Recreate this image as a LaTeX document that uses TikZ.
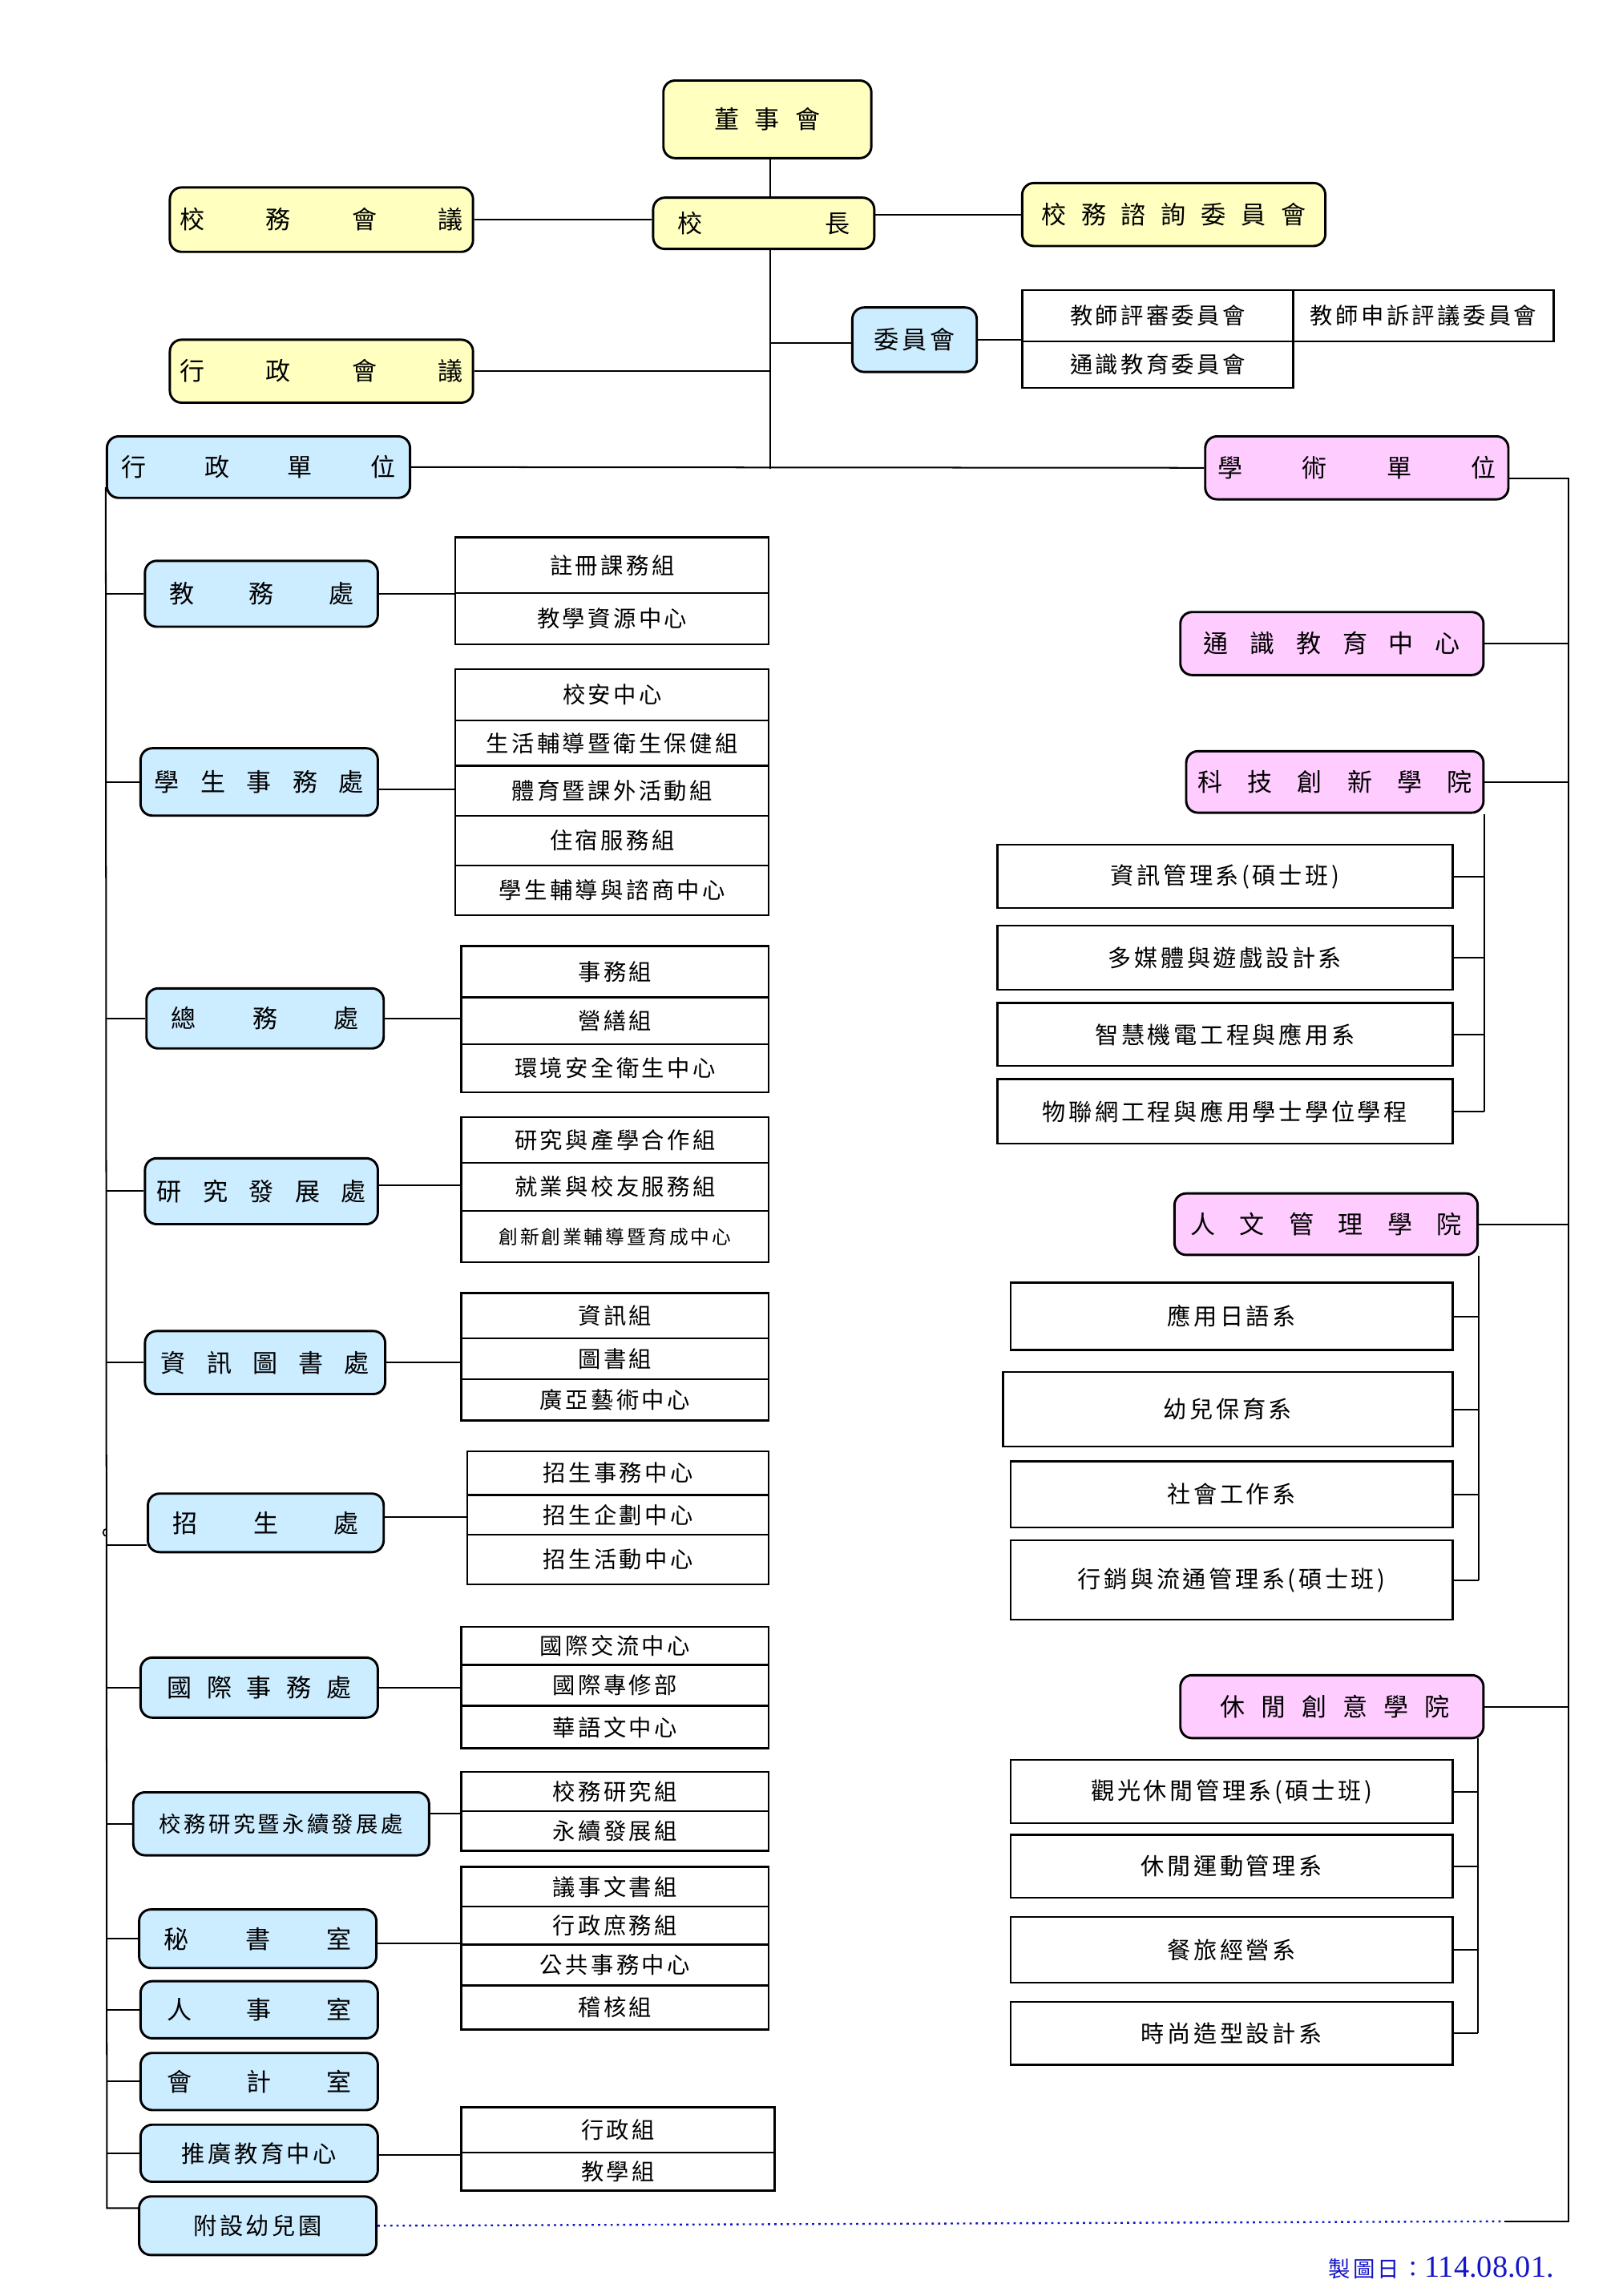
\documentclass[tikz,border=0pt]{standalone}
\usepackage{fontspec}
\setmainfont{Noto Sans CJK TC}
\newfontfamily\cjks[LetterSpace=12]{Noto Sans CJK TC}
\newfontfamily\lserif{Liberation Serif}
\usetikzlibrary{calc}
\definecolor{yel}{RGB}{255,255,192}
\definecolor{blu}{RGB}{204,236,255}
\definecolor{pnk}{RGB}{255,204,255}
\definecolor{dblue}{RGB}{20,20,200}
\newcommand\obox[7]{%
  \pgfmathsetmacro\cx{(#3+#5)/2}\pgfmathsetmacro\cy{-(#4+#6)/2}%
  \pgfmathsetmacro\ww{#5-#3}\pgfmathsetmacro\hh{#6-#4}%
  \node[#1, minimum width=\ww pt, minimum height=\hh pt] (#2) at (\cx pt,\cy pt) {#7};}
\newcommand\spr[2]{\makebox[#1pt][s]{#2}}
\tikzset{
  tbox/.style={draw, line width=1.6pt, rounded corners=8pt, inner sep=0pt, font=\fontsize{17}{20}\selectfont},
  ybox/.style={tbox, fill=yel},
  bbox/.style={tbox, fill=blu},
  pbox/.style={tbox, fill=pnk},
  wbox/.style={draw, line width=1.3pt, fill=white, inner sep=0pt, font=\cjks\fontsize{15.5}{18}\selectfont},
  dbox/.style={wbox, font=\cjks\fontsize{16}{19}\selectfont},
  conn/.style={line width=1.1pt},
}
\begin{document}
\begin{tikzpicture}[x=1pt,y=1pt]
\useasboundingbox[fill=white] (0,0) rectangle (1108,-1568);

% ---------- top ----------
\obox{ybox}{boss}{453}{55}{595}{108}{\spr{72}{董\hfill 事\hfill 會}}
\obox{ybox}{pres}{446}{135}{597}{170}{\spr{118}{校\hfill 長}}
\obox{ybox}{xwhy}{116}{128}{323}{172}{\spr{193}{校\hfill 務\hfill 會\hfill 議}}
\obox{ybox}{zx}{698}{125}{905}{168}{\spr{181}{校\hfill 務\hfill 諮\hfill 詢\hfill 委\hfill 員\hfill 會}}
\obox{bbox}{cm}{582}{210}{667}{254}{\cjks 委員會}
\obox{wbox}{t1}{698}{198}{883}{233}{教師評審委員會}
\obox{wbox}{t2}{698}{233}{883}{265}{通識教育委員會}
\obox{wbox}{t3}{883}{198}{1061}{233}{教師申訴評議委員會}
\obox{ybox}{xz}{116}{232}{323}{275}{\spr{193}{行\hfill 政\hfill 會\hfill 議}}
\obox{bbox}{admin}{73}{298}{280}{340}{\spr{187}{行\hfill 政\hfill 單\hfill 位}}
\obox{pbox}{acad}{823}{298}{1030}{341}{\spr{190}{學\hfill 術\hfill 單\hfill 位}}

% ---------- administrative units ----------
\obox{bbox}{u1}{99}{383}{258}{428}{\spr{126}{教\hfill 務\hfill 處}}
\obox{bbox}{u2}{96}{511}{258}{557}{\spr{143}{學\hfill 生\hfill 事\hfill 務\hfill 處}}
\obox{bbox}{u3}{100}{675}{262}{716}{\spr{128}{總\hfill 務\hfill 處}}
\obox{bbox}{u4}{99}{791}{258}{836}{\spr{143}{研\hfill 究\hfill 發\hfill 展\hfill 處}}
\obox{bbox}{u5}{99}{909}{263}{952}{\spr{142}{資\hfill 訊\hfill 圖\hfill 書\hfill 處}}
\obox{bbox}{u6}{101}{1020}{262}{1060}{\spr{127}{招\hfill 生\hfill 處}}
\obox{bbox}{u7}{96}{1132}{258}{1173}{\spr{126}{國\hfill 際\hfill 事\hfill 務\hfill 處}}
\obox{bbox,font=\cjks\fontsize{15}{18}\selectfont}{u8}{91}{1224}{293}{1267}{校務研究暨永續發展處}
\obox{bbox}{u9}{95}{1304}{257}{1344}{\spr{128}{秘\hfill 書\hfill 室}}
\obox{bbox}{u10}{96}{1353}{258}{1392}{\spr{126}{人\hfill 事\hfill 室}}
\obox{bbox}{u11}{96}{1402}{258}{1441}{\spr{126}{會\hfill 計\hfill 室}}
\obox{bbox,font=\cjks\fontsize{16}{19}\selectfont}{u12}{96}{1451}{258}{1490}{推廣教育中心}
\obox{bbox,font=\cjks\fontsize{16}{19}\selectfont}{u13}{95}{1500}{257}{1540}{附設幼兒園}

% ---------- groups ----------
\obox{wbox}{g11}{311}{367}{525}{405}{註冊課務組}
\obox{wbox}{g12}{311}{405}{525}{440}{教學資源中心}

\obox{wbox}{g21}{311}{457}{525}{492}{校安中心}
\obox{wbox}{g22}{311}{492}{525}{523}{生活輔導暨衛生保健組}
\obox{wbox}{g23}{311}{523}{525}{557}{體育暨課外活動組}
\obox{wbox}{g24}{311}{557}{525}{591}{住宿服務組}
\obox{wbox}{g25}{311}{591}{525}{625}{學生輔導與諮商中心}

\obox{wbox}{g31}{315}{646}{525}{681}{事務組}
\obox{wbox}{g32}{315}{681}{525}{713}{營繕組}
\obox{wbox}{g33}{315}{713}{525}{746}{環境安全衛生中心}

\obox{wbox}{g41}{315}{763}{525}{794}{研究與產學合作組}
\obox{wbox}{g42}{315}{794}{525}{827}{就業與校友服務組}
\obox{wbox,font=\cjks\fontsize{13}{16}\selectfont}{g43}{315}{827}{525}{862}{創新創業輔導暨育成中心}

\obox{wbox}{g51}{315}{883}{525}{914}{資訊組}
\obox{wbox}{g52}{315}{914}{525}{942}{圖書組}
\obox{wbox}{g53}{315}{942}{525}{970}{廣亞藝術中心}

\obox{wbox}{g61}{319}{991}{525}{1021}{招生事務中心}
\obox{wbox}{g62}{319}{1021}{525}{1048}{招生企劃中心}
\obox{wbox}{g63}{319}{1048}{525}{1082}{招生活動中心}

\obox{wbox}{g71}{315}{1111}{525}{1137}{國際交流中心}
\obox{wbox}{g72}{315}{1137}{525}{1165}{國際專修部}
\obox{wbox}{g73}{315}{1165}{525}{1194}{華語文中心}

\obox{wbox}{g81}{315}{1210}{525}{1237}{校務研究組}
\obox{wbox}{g82}{315}{1237}{525}{1264}{永續發展組}

\obox{wbox}{g91}{315}{1275}{525}{1302}{議事文書組}
\obox{wbox}{g92}{315}{1302}{525}{1328}{行政庶務組}
\obox{wbox}{g93}{315}{1328}{525}{1356}{公共事務中心}
\obox{wbox}{g94}{315}{1356}{525}{1386}{稽核組}

\obox{wbox}{g121}{315}{1439}{529}{1470}{行政組}
\obox{wbox}{g122}{315}{1470}{529}{1496}{教學組}

% ---------- academic units ----------
\obox{pbox}{c0}{806}{418}{1013}{461}{\spr{175}{通\hfill 識\hfill 教\hfill 育\hfill 中\hfill 心}}
\obox{pbox}{c1}{810}{513}{1013}{555}{\spr{187}{科\hfill 技\hfill 創\hfill 新\hfill 學\hfill 院}}
\obox{dbox}{d11}{681}{577}{992}{620}{資訊管理系(碩士班)}
\obox{dbox}{d12}{681}{632}{992}{676}{多媒體與遊戲設計系}
\obox{dbox}{d13}{681}{685}{992}{728}{智慧機電工程與應用系}
\obox{dbox}{d14}{681}{737}{992}{781}{物聯網工程與應用學士學位學程}

\obox{pbox}{c2}{802}{815}{1009}{857}{\spr{185}{人\hfill 文\hfill 管\hfill 理\hfill 學\hfill 院}}
\obox{dbox}{d21}{690}{876}{992}{922}{應用日語系}
\obox{dbox}{d22}{685}{937}{992}{988}{幼兒保育系}
\obox{dbox}{d23}{690}{998}{992}{1043}{社會工作系}
\obox{dbox}{d24}{690}{1052}{992}{1106}{行銷與流通管理系(碩士班)}

\obox{pbox}{c3}{806}{1144}{1013}{1187}{\hspace{4pt}\spr{157}{休\hfill 閒\hfill 創\hfill 意\hfill 學\hfill 院}}
\obox{dbox}{d31}{690}{1202}{992}{1245}{觀光休閒管理系(碩士班)}
\obox{dbox}{d32}{690}{1253}{992}{1296}{休閒運動管理系}
\obox{dbox}{d33}{690}{1309}{992}{1354}{餐旅經營系}
\obox{dbox}{d34}{690}{1367}{992}{1410}{時尚造型設計系}

% ---------- coordinates ----------
\coordinate (sp) at (526,-320);
\coordinate (lr) at (73,-1508);
\coordinate (rr) at (1071,-1517);
\coordinate (dotend) at (1027,-1517);
\coordinate (v3) at (1009,-1187);

% ---------- connectors: top ----------
\draw[conn] (boss.south -| sp) -- (pres.north -| sp);
\draw[conn] (xwhy.east) -- (xwhy.east -| pres.west);
\draw[conn] (zx.west) -- (zx.west -| pres.east);
\draw[conn] (pres.south -| sp) -- (sp);
\draw[conn] ([yshift=-2pt]cm.west -| sp) -- ([yshift=-2pt]cm.west);
\draw[conn] (cm.east) -- (cm.east -| t1.west);
\draw[conn] (xz.east) -- (xz.east -| sp);
\draw[conn] (admin.east) -- (acad.west);

% ---------- connectors: left rail ----------
\draw[conn] ([yshift=8pt]admin.south west) -- (lr) -- (lr -| u13.west);
\foreach \u in {u1,u2,u3,u4,u5,u7,u8,u9,u10,u11,u12}
  \draw[conn] (\u.west) -- (\u.west -| lr);
\draw[conn] ([yshift=-15pt]u6.west) -- ([yshift=-15pt]u6.west -| lr);
\draw[line width=0.9pt] (73,-1044) arc (90:270:2.6);

% unit to group
\draw[conn] (u1.east) -- (u1.east -| g11.west);
\draw[conn] ([yshift=-5pt]u2.east) -- ([yshift=-5pt]u2.east -| g21.west);
\draw[conn] (u3.east) -- (u3.east -| g31.west);
\draw[conn] ([yshift=4pt]u4.east) -- ([yshift=4pt]u4.east -| g41.west);
\draw[conn] (u5.east) -- (u5.east -| g51.west);
\draw[conn] ([yshift=4pt]u6.east) -- ([yshift=4pt]u6.east -| g61.west);
\draw[conn] (u7.east) -- (u7.east -| g71.west);
\draw[conn] ([yshift=7pt]u8.east) -- ([yshift=7pt]u8.east -| g81.west);
\draw[conn] ([yshift=-3pt]u9.east) -- ([yshift=-3pt]u9.east -| g91.west);
\draw[conn] ([yshift=-1pt]u12.east) -- ([yshift=-1pt]u12.east -| g121.west);

% ---------- connectors: right rail ----------
\draw[conn] ([yshift=-7pt]acad.east) -- ([yshift=-7pt]acad.east -| rr) -- (rr) -- (dotend);
\draw[line width=1.3pt, dblue, dash pattern=on 1.5pt off 2.8pt] (u13.east) -- (dotend);
\foreach \c in {c0,c1,c2,c3}
  \draw[conn] (\c.east) -- (\c.east -| rr);

\draw[conn] (c1.south east) -- (c1.south east |- d14.east);
\foreach \d in {d11,d12,d13,d14}
  \draw[conn] (\d.east) -- (\d.east -| c1.south east);

\draw[conn] (c2.south east) -- (c2.south east |- d24.east);
\foreach \d in {d21,d22,d23,d24}
  \draw[conn] (\d.east) -- (\d.east -| c2.south east);

\draw[conn] (v3) -- (v3 |- d34.east);
\foreach \d in {d31,d32,d33,d34}
  \draw[conn] (\d.east) -- (\d.east -| v3);

% ---------- date ----------
\node[text=dblue, anchor=west, inner sep=0pt] (date) at (907,-1549)
  {{\cjks\fontsize{15}{18}\selectfont 製圖日：}{\lserif\fontsize{21}{23}\selectfont 114.08.01.}};
\end{tikzpicture}
\end{document}
